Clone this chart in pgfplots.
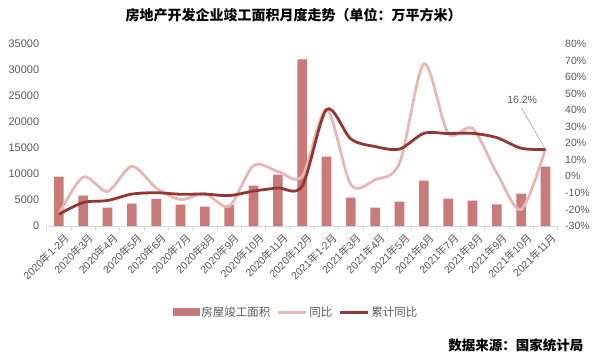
\documentclass[border=0pt]{standalone}
\usepackage{pgfplots}
\pgfplotsset{compat=1.18}
\usepackage{fontspec}
\setmainfont{Liberation Sans}
\newfontfamily\cjk{Noto Sans CJK SC}
\definecolor{barc}{HTML}{C97B7B}
\definecolor{lightc}{HTML}{E8B7B4}
\definecolor{darkc}{HTML}{943634}
\definecolor{txt}{HTML}{595959}
\definecolor{axc}{HTML}{D9D9D9}
\newcommand\lab[2]{#1{\cjk 年}#2{\cjk 月}}
\begin{document}
\begin{tikzpicture}[x=1bp,y=1bp]
\path[use as bounding box] (0,0) rectangle (594,360);
\begin{axis}[
 at={(46.7bp,134bp)}, anchor=south west,
 scale only axis, width=511bp, height=182bp,
 xmin=-0.5, xmax=20.5, ymin=0, ymax=35000,
 axis x line*=bottom, axis y line*=left,
 y axis line style={draw=none},
 x axis line style={draw=axc, line width=0.8bp, -},
 ytick={0,5000,...,35000},
 ytick style={draw=none},
 xtick={0,...,20},
 xticklabels={\lab{2020}{1-2},\lab{2020}{3},\lab{2020}{4},\lab{2020}{5},\lab{2020}{6},\lab{2020}{7},\lab{2020}{8},\lab{2020}{9},\lab{2020}{10},\lab{2020}{11},\lab{2020}{12},\lab{2021}{1-2},\lab{2021}{3},\lab{2021}{4},\lab{2021}{5},\lab{2021}{6},\lab{2021}{7},\lab{2021}{8},\lab{2021}{9},\lab{2021}{10},\lab{2021}{11}},
 major x tick style={draw=none},
 minor xtick={-0.5,0.5,...,20.5},
 minor x tick style={draw=axc, line width=0.8bp},
 minor tick length=5bp,
 major tick length=4bp,
 tick align=outside,
 x tick label style={rotate=45, anchor=north east, font=\fontsize{10.5bp}{12bp}\selectfont, text=txt, inner sep=1bp, xshift=3bp, yshift=-4bp},
 y tick label style={font=\fontsize{11bp}{13bp}\selectfont, text=txt},
 scaled y ticks=false,
 yticklabel style={/pgf/number format/1000 sep={}},
 /pgf/number format/assume math mode=true,
]
\addplot[ybar, bar width=9.7bp, fill=barc, draw=none] coordinates {
(0,9500) (1,5850) (2,3530) (3,4300) (4,5200) (5,4110) (6,3730) (7,4050) (8,7770) (9,9890) (10,32050)
(11,13360) (12,5460) (13,3530) (14,4690) (15,8730) (16,5270) (17,4880) (18,4170) (19,6230) (20,11430)};
\end{axis}
\begin{axis}[
 at={(46.7bp,134bp)}, anchor=south west,
 scale only axis, width=511bp, height=182bp,
 xmin=-0.5, xmax=20.5, ymin=-30, ymax=80,
 axis x line=none, axis y line*=right,
 y axis line style={draw=none},
 ytick={-30,-20,...,80},
 ytick style={draw=none},
 major tick length=4bp,
 tick align=outside,
 yticklabel={\pgfmathprintnumber{\tick}\%},
 y tick label style={font=\fontsize{10.5bp}{13bp}\selectfont, text=txt},
 /pgf/number format/assume math mode=true,
 legend style={at={(0.488,-0.4725)}, anchor=center, draw=none, fill=none,
   font=\cjk\fontsize{11.5bp}{13bp}\selectfont, text=txt,
   /tikz/every even column/.append style={column sep=4bp}},
 legend columns=3,
]
\addlegendimage{legend image code/.code={\fill[barc] (0bp,-3.5bp) rectangle (26bp,3.5bp);}}
\addlegendentry{房屋竣工面积}
\addplot[lightc, line width=2.8bp, smooth, tension=0.5,
  legend image code/.code={\draw[lightc,line width=3bp] (0bp,0bp)--(28bp,0bp);}] coordinates {
(0,-22.9) (1,-0.4) (2,-9.1) (3,6.1) (4,-7) (5,-14) (6,-10.5) (7,-18) (8,6.5) (9,3) (10,0)
(11,40.4) (12,-5) (13,-2) (14,8) (15,68) (16,26) (17,29) (18,2) (19,-20) (20,16.8)};
\addlegendentry{同比}
\addplot[darkc, line width=2.8bp, smooth, tension=0.5,
  legend image code/.code={\draw[darkc,line width=3bp] (0bp,0bp)--(28bp,0bp);}] coordinates {
(0,-22.9) (1,-15.8) (2,-14.6) (3,-10.7) (4,-9.9) (5,-10.8) (6,-10.7) (7,-11.6) (8,-8.9) (9,-7) (10,-5.8)
(11,40.4) (12,22.6) (13,18) (14,16.5) (15,26) (16,25.9) (17,26) (18,23.4) (19,17) (20,16.2)};
\addlegendentry{累计同比}
\draw[gray!70, line width=0.6bp] (axis cs:19.02,41.1) -- (axis cs:20,16.2);
\node[font=\fontsize{10.5bp}{12bp}\selectfont, text=txt] at (axis cs:19.04,46.2) {16.2\%};
\end{axis}
\node[font=\cjk\bfseries\fontsize{14bp}{16bp}\selectfont] at (293.5,345) {房地产开发企业竣工面积月度走势（单位：万平方米）};
\node[anchor=east, font=\cjk\bfseries\fontsize{13.5bp}{15bp}\selectfont] at (587,15) {数据来源：国家统计局};
\end{tikzpicture}
\end{document}
